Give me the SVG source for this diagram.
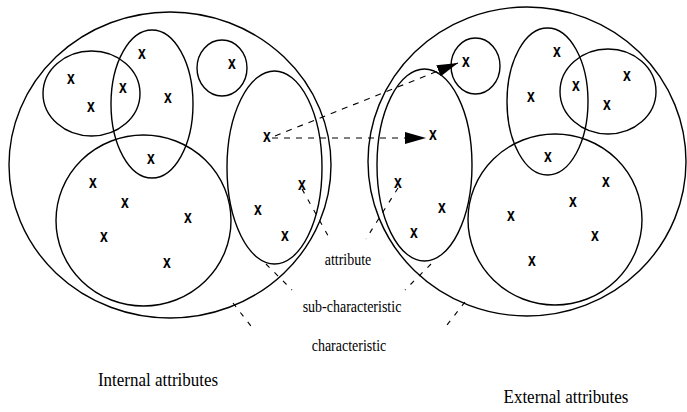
<svg xmlns="http://www.w3.org/2000/svg" width="687" height="412" viewBox="0 0 687 412">
  <style>
    .set { fill: none; stroke: #000; stroke-width: 1.4; }
    .mark { font-family: "Liberation Sans", Arial, sans-serif; font-size: 14px; font-weight: bold; text-anchor: middle; fill: #000; }
    .lead { fill: none; stroke: #000; stroke-width: 1.1; stroke-dasharray: 5 7; }
    .flow { fill: none; stroke: #000; stroke-width: 1.1; stroke-dasharray: 6 6; }
    .lbl { font-family: "Liberation Serif", "Times New Roman", serif; font-size: 14px; text-anchor: middle; fill: #000; }
    .cap { font-family: "Liberation Serif", "Times New Roman", serif; font-size: 17px; text-anchor: middle; fill: #000; }
  </style>
  <defs>
    <marker id="head" viewBox="0 0 21 12" refX="21" refY="6" markerWidth="21" markerHeight="12" markerUnits="userSpaceOnUse" orient="auto">
      <path d="M0,0 L21,6 L0,12 Z" fill="#000"/>
    </marker>
    <!-- one attribute mark, centred on the origin -->
    <text id="x" class="mark" transform="scale(1,1.3)" y="3.6">x</text>
  </defs>
  <rect width="687" height="412" fill="#fff"/>

  <!-- internal attributes -->
  <g id="internal">
    <ellipse class="set" cx="170" cy="165" rx="161" ry="153"/>
    <g id="int-char-a">
      <ellipse class="set" cx="91.5" cy="93.5" rx="48.5" ry="42.5"/>
    </g>
    <g id="int-char-b">
      <ellipse class="set" cx="152" cy="104" rx="41" ry="74"/>
    </g>
    <g id="int-char-c">
      <ellipse class="set" cx="222" cy="68" rx="25" ry="28"/>
    </g>
    <g id="int-char-d">
      <ellipse class="set" cx="274.5" cy="167.5" rx="47.5" ry="96.5"/>
    </g>
    <g id="int-char-e">
      <ellipse class="set" cx="143.5" cy="220.5" rx="87.5" ry="85.5"/>
    </g>
    <g id="int-attrs">
      <use href="#x" x="71" y="79"/>
      <use href="#x" x="91" y="107"/>
      <use href="#x" x="123" y="88"/>
      <use href="#x" x="142" y="54"/>
      <use href="#x" x="168" y="98"/>
      <use href="#x" x="151" y="159"/>
      <use href="#x" x="232" y="64"/>
      <use href="#x" x="267" y="137"/>
      <use href="#x" x="93" y="183"/>
      <use href="#x" x="125" y="203"/>
      <use href="#x" x="104" y="237"/>
      <use href="#x" x="167" y="263"/>
      <use href="#x" x="188" y="218"/>
      <use href="#x" x="302" y="185"/>
      <use href="#x" x="258" y="210"/>
      <use href="#x" x="285" y="236"/>
    </g>
  </g>

  <!-- external attributes -->
  <g id="external">
    <ellipse class="set" cx="527" cy="161.5" rx="159" ry="154.5"/>
    <g id="ext-char-g">
      <ellipse class="set" cx="424.5" cy="165" rx="47.5" ry="96"/>
    </g>
    <g id="ext-char-h">
      <ellipse class="set" cx="475.5" cy="66" rx="24.5" ry="28"/>
    </g>
    <g id="ext-char-i">
      <ellipse class="set" cx="547.5" cy="101.5" rx="40.5" ry="73.5"/>
    </g>
    <g id="ext-char-j">
      <ellipse class="set" cx="608" cy="91.5" rx="48" ry="42.5"/>
    </g>
    <g id="ext-char-k">
      <ellipse class="set" cx="555" cy="219.5" rx="87" ry="85.5"/>
    </g>
    <g id="ext-attrs">
      <use href="#x" x="466" y="62"/>
      <use href="#x" x="433" y="135"/>
      <use href="#x" x="557" y="52"/>
      <use href="#x" x="531" y="97"/>
      <use href="#x" x="576" y="86"/>
      <use href="#x" x="627" y="76"/>
      <use href="#x" x="607" y="105"/>
      <use href="#x" x="548" y="157"/>
      <use href="#x" x="398" y="183"/>
      <use href="#x" x="442" y="208"/>
      <use href="#x" x="414" y="233"/>
      <use href="#x" x="511" y="216"/>
      <use href="#x" x="606" y="182"/>
      <use href="#x" x="573" y="202"/>
      <use href="#x" x="595" y="236"/>
      <use href="#x" x="532" y="261"/>
    </g>
  </g>

  <!-- mappings and label leaders -->
  <g id="connectors">
    <line class="flow" x1="272" y1="138" x2="426" y2="138" marker-end="url(#head)"/>
    <line class="flow" x1="275" y1="136" x2="458" y2="63" marker-end="url(#head)"/>
    <line class="lead" x1="302" y1="189" x2="331" y2="241"/>
    <line class="lead" x1="266" y1="264" x2="292" y2="290"/>
    <line class="lead" x1="233" y1="303" x2="254" y2="330"/>
    <line class="lead" x1="398" y1="188" x2="366" y2="239"/>
    <line class="lead" x1="431" y1="264" x2="405" y2="290"/>
    <line class="lead" x1="465" y1="302" x2="443" y2="330"/>
  </g>

  <g id="labels">
    <text class="lbl" transform="translate(348,265) scale(1,1.15)">attribute</text>
    <text class="lbl" transform="translate(352,312) scale(1,1.15)">sub-characteristic</text>
    <text class="lbl" transform="translate(349,351) scale(1,1.15)">characteristic</text>
    <text class="cap" transform="translate(158,386) scale(1,1.15)">Internal attributes</text>
    <text class="cap" transform="translate(566,403) scale(1,1.15)">External attributes</text>
  </g>
</svg>
